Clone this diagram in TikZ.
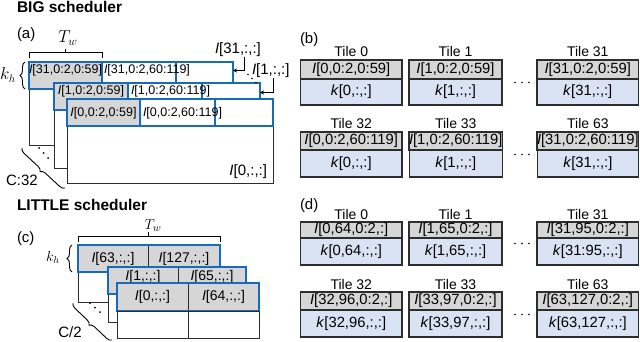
\documentclass[tikz,border=0pt]{standalone}
\usepackage{fontspec}
\setmainfont{Liberation Sans}
\usetikzlibrary{arrows.meta,decorations.pathreplacing}
\definecolor{cgray}{RGB}{214,214,214}
\definecolor{cblue}{RGB}{218,227,243}
\definecolor{cline}{RGB}{22,108,186}
\definecolor{cdark}{RGB}{45,45,45}
\newcommand\fsz[1]{\fontsize{#1}{#1}\selectfont}
\newcommand\iI{\textit{I}}
\newcommand\ik{\textit{k}}
\newcommand\mytile[9]{%
  \node[tgray, minimum width=#4pt, minimum height=#5pt, anchor=north west] (#1g) at (#2,#3) {#8};
  \node[tblue, minimum width=#4pt, minimum height=#6pt, anchor=north] (#1b) at (#1g.south) {#9};
  \node[tlabel] (#1t) at ([yshift=3pt]#1g.north) {#7};
}
\begin{document}
\begin{tikzpicture}[x=1pt, y=-1pt,
  every node/.style={inner sep=0pt, outer sep=0pt},
  acell/.style={draw=cline, line width=1.3pt, minimum height=27pt, anchor=north west},
  agray/.style={acell, fill=cgray},
  awhite/.style={acell, fill=white},
  frame/.style={draw=cdark, line width=0.9pt, fill=white, anchor=north west},
  atext/.style={font=\fsz{12.5}},
  lbl/.style={font=\fsz{15}},
  hdr/.style={font={\fsz{15.5}\bfseries}, anchor=base west},
  plabel/.style={font=\fsz{15}, anchor=base west},
  tgray/.style={draw=cdark, line width=1.2pt, fill=cgray, font=\fsz{14.8}},
  tblue/.style={draw=cdark, line width=1.2pt, fill=cblue, font=\fsz{14.8}},
  tlabel/.style={font=\fsz{14}, anchor=base},
  ccell/.style={draw=cdark, line width=0.7pt, fill=cgray, minimum height=27pt, anchor=north west, font=\fsz{14}},
  cwhite/.style={draw=cdark, line width=0.9pt, fill=white, minimum height=27pt, anchor=north west},
  browline/.style={draw=cline, line width=1.5pt},
  arr/.style={-{Stealth[length=4pt,width=4pt]}, line width=0.8pt},
  brk/.style={line width=1pt},
  brc/.style={decorate, line width=0.9pt},
  ctext/.style={font=\fsz{14}}
]
\useasboundingbox (0,0) rectangle (640,342);

% ---------- headers
\node[hdr] (hbig) at (17,13) {BIG scheduler};
\node[hdr] (hlit) at (17,210) {LITTLE scheduler};
\node[plabel] (pa) at (17,39) {(a)};
\node[plabel] (pb) at (300,44) {(b)};
\node[plabel] (pc) at (17,242) {(c)};
\node[plabel] (pd) at (300,209) {(d)};

% ---------- (a) back layer
\node[frame, minimum width=204pt, minimum height=83pt] (f31) at (29,62) {};
\node[agray, minimum width=73pt] (a31g) at (29,62) {};
\node[awhite, minimum width=74pt] (a31w) at (102,62) {};
\node[awhite, minimum width=57pt] (a31r) at (176,62) {};
\node[atext] (t31a) at (65.5,70) {\iI[31,0:2,0:59]};
\node[atext, anchor=west] (t31b) at (104,70) {\iI[31,0:2,60:119]};
% middle layer
\node[frame, minimum width=206pt, minimum height=85pt] (f1) at (54,83) {};
\node[agray, minimum width=74pt] (a1g) at (54,83) {};
\node[awhite, minimum width=74pt] (a1w) at (128,83) {};
\node[awhite, minimum width=58pt] (a1r) at (202,83) {};
\node[atext] (t1a) at (91,91) {\iI[1,0:2,0:59]};
\node[atext, anchor=west] (t1b) at (131,91) {\iI[1,0:2,60:119]};
% front layer
\node[frame, minimum width=206pt, minimum height=84pt] (f0) at (67,99) {};
\node[agray, minimum width=73pt] (a0g) at (67,99) {};
\node[awhite, minimum width=75pt] (a0w) at (140,99) {};
\node[awhite, minimum width=58pt] (a0r) at (215,99) {};
\node[atext] (t0a) at (103.5,113) {\iI[0,0:2,0:59]};
\node[atext, anchor=west] (t0b) at (143,113) {\iI[0,0:2,60:119]};

% T_w bracket
\draw[brk] ([yshift=4pt]a31g.north west) -- ([yshift=9pt]a31g.north west) -- ([yshift=9pt]a31g.north east) -- ([yshift=4pt]a31g.north east);
\draw[brk] ([yshift=9pt]a31g.north) -- ([yshift=13pt]a31g.north);
\node[anchor=base, font=\fsz{17}] (tw1) at (68,43) {$T_w$};
% k_h brace
\draw[brc, decoration={brace, amplitude=5pt}] ([xshift=-4pt]a31g.south west) -- ([xshift=-4pt]a31g.north west);
\node[anchor=base west, font=\fsz{16}] (kh1) at (0,80) {$k_h$};
% C:32 brace
\draw[brc, decoration={brace, mirror, amplitude=5pt}] (22,148) -- (65,188);
\node[font=\fsz{15}] (c32) at (22,180) {C:32};
\fill (39,148) circle (1) (43.5,153) circle (1) (48,158) circle (1);
% labels and arrows
\node[lbl, anchor=west] (l31) at (215,50) {\iI[31,:,:]};
\node[lbl, anchor=west] (l1) at (252,71) {\iI[1,:,:]};
\node[lbl, anchor=east] (l0) at (267,172) {\iI[0,:,:]};
\draw[arr] ([xshift=6pt]l31.south) |- ([yshift=5pt]a31r.east);
\draw[arr] ([xshift=3pt]l1.south) |- ([yshift=4pt]a1r.east);
\fill (248,74.5) circle (0.9) (252,78.5) circle (0.9) (256,82.5) circle (0.9);

% ---------- (c)
\node[frame, minimum width=142pt, minimum height=57pt] (cf63) at (78,245) {};
\node[ccell, minimum width=70pt] (c63a) at (78,245) {\iI[63,:,:]};
\node[ccell, minimum width=72pt] (c63b) at (148,245) {\iI[127,:,:]};
\draw[browline] (c63a.north west) rectangle (c63b.south east);
\node[frame, minimum width=138pt, minimum height=55pt] (cf1) at (108,267) {};
\node[ccell, minimum width=70pt] (c1a) at (108,267) {};
\node[ccell, minimum width=68pt] (c1b) at (178,267) {};
\node[ctext] (c1at) at (143,277) {\iI[1,:,:]};
\node[ctext] (c1bt) at (212,277) {\iI[65,:,:]};
\draw[browline] (c1a.north west) rectangle (c1b.south east);
\node[frame, minimum width=142pt, minimum height=55pt] (cf0) at (117,283) {};
\node[ccell, minimum width=71pt, minimum height=28pt] (c0a) at (117,283) {\iI[0,:,:]};
\node[ccell, minimum width=71pt, minimum height=28pt] (c0b) at (188,283) {\iI[64,:,:]};
\draw[browline] (c0a.north west) rectangle (c0b.south east);
\node[cwhite, minimum width=71pt] (c0c) at (117,311) {};
\node[cwhite, minimum width=71pt] (c0d) at (188,311) {};
% T_w bracket (c)
\draw[brk] ([yshift=3pt]c63a.north west) -- ([yshift=9pt]c63a.north west) -- ([yshift=9pt]c63b.north east) -- ([yshift=3pt]c63b.north east);
\draw[brk] ([yshift=9pt]c63b.north west) -- ([yshift=13pt]c63b.north west);
\node[anchor=base, font=\fsz{15}] (tw2) at (153,229) {$T_w$};
% k_h brace (c)
\draw[brc, decoration={brace, amplitude=5pt}] ([xshift=-6pt]c63a.south west) -- ([xshift=-6pt]c63a.north west);
\node[anchor=base west, font=\fsz{14}] (kh2) at (46,261) {$k_h$};
% C/2 brace
\draw[brc, decoration={brace, mirror, amplitude=5pt}] (73,303) -- (112,340);
\node[font=\fsz{15}] (c2) at (70,332) {C/2};
\fill (90,303) circle (1) (95,307.5) circle (1) (100,312) circle (1);

% ---------- (b)
\mytile{b0}{300.5}{60}{101.5}{19}{26}{Tile 0}{\iI[0,0:2,0:59]}{\ik[0,:,:]}
\mytile{b1}{409}{60}{93}{19}{26}{Tile 1}{\iI[1,0:2,0:59]}{\ik[1,:,:]}
\mytile{b31}{537}{60}{101.5}{19}{26}{Tile 31}{\iI[31,0:2,0:59]}{\ik[31,:,:]}
\mytile{b32}{300.5}{132}{101.5}{18}{27}{Tile 32}{\iI[0,0:2,60:119]}{\ik[0,:,:]}
\mytile{b33}{409}{132}{93}{18}{27}{Tile 33}{\iI[1,0:2,60:119]}{\ik[1,:,:]}
\mytile{b63}{537}{132}{101.5}{18}{27}{Tile 63}{\iI[31,0:2,60:119]}{\ik[31,:,:]}
\fill (515,82.5) circle (0.9) (522,82.5) circle (0.9) (529,82.5) circle (0.9);
\fill (515,154.5) circle (0.9) (522,154.5) circle (0.9) (529,154.5) circle (0.9);

% ---------- (d)
\mytile{d0}{300.5}{222}{101.5}{16}{27}{Tile 0}{\iI[0,64,0:2,:]}{\ik[0,64,:,:]}
\mytile{d1}{409}{222}{93}{16}{27}{Tile 1}{\iI[1,65,0:2,:]}{\ik[1,65,:,:]}
\mytile{d31}{537}{222}{101.5}{16}{27}{Tile 31}{\iI[31,95,0:2,:]}{\ik[31:95,:,:]}
\mytile{d32}{300.5}{292}{101.5}{18}{27}{Tile 32}{\iI[32,96,0:2,:]}{\ik[32,96,:,:]}
\mytile{d33}{409}{292}{93}{18}{27}{Tile 33}{\iI[33,97,0:2,:]}{\ik[33,97,:,:]}
\mytile{d63}{537}{292}{101.5}{18}{27}{Tile 63}{\iI[63,127,0:2,:]}{\ik[63,127,:,:]}
\fill (515,243.5) circle (0.9) (522,243.5) circle (0.9) (529,243.5) circle (0.9);
\fill (515,314.5) circle (0.9) (522,314.5) circle (0.9) (529,314.5) circle (0.9);
\end{tikzpicture}
\end{document}
